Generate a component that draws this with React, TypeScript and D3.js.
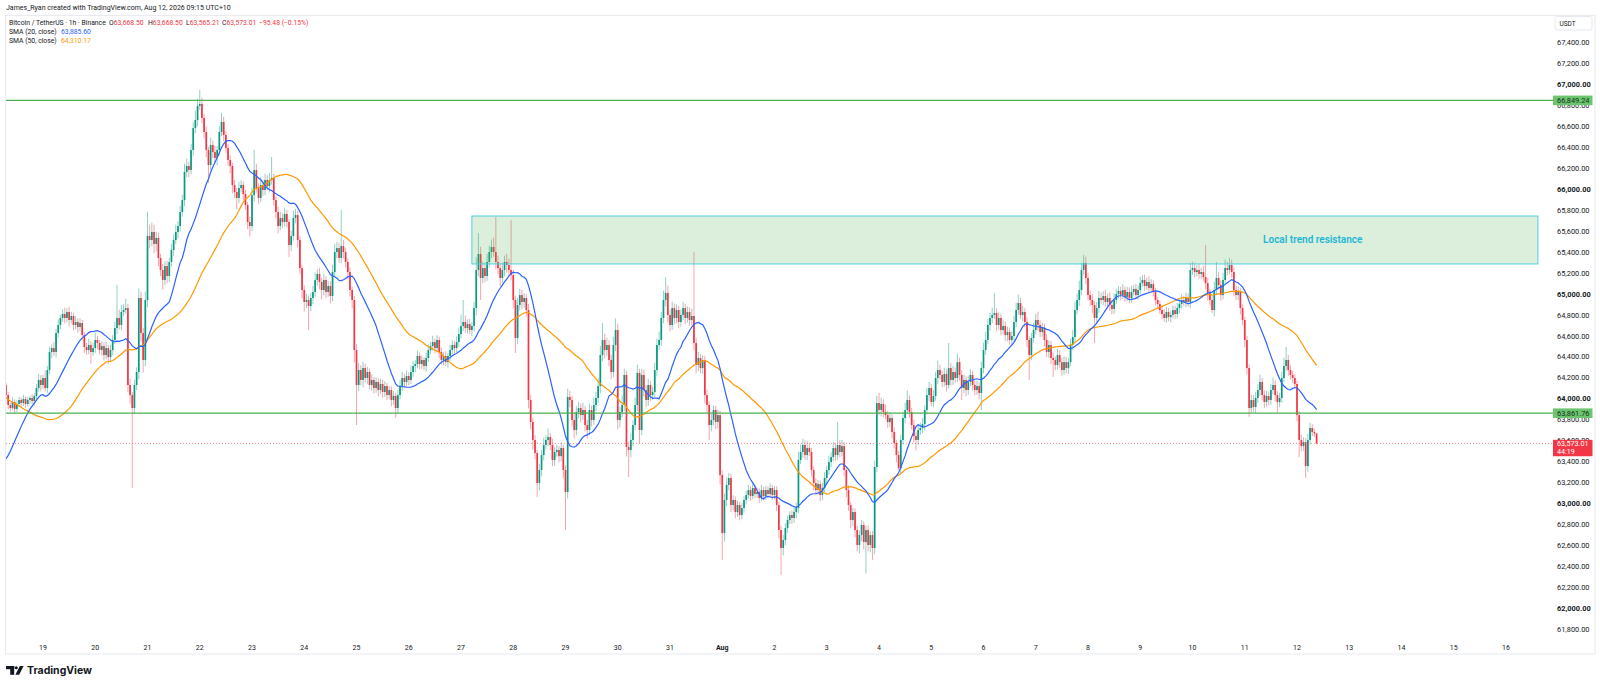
import React from "react";
import * as d3 from "d3";

// ---------- DATA ----------
// hourly closes before the visible window (only used to seed the moving averages)
const warmupCloses = [
  64520, 64580, 64610, 64560, 64490, 64530, 64600, 64650, 64620, 64570, 64540,
  64500, 64560, 64610, 64580, 64530, 64490, 64520, 64560, 64590, 64540,
  64420, 64350, 64280, 64190, 64120, 64050, 63950, 63880, 63760, 63560,
  63250, 63120, 63010, 62950, 62980, 63060, 63020, 63110, 63090, 63170,
  63280, 63390, 63460, 63550, 63620, 63690,
  64150, 64425, 64130,
];

// first visible candle: 2026-07-18 07:00, one candle per hour
const firstCandleTime = "2026-07-18T07:00:00Z";
const closes = [
  // Jul 18 (07:00-23:00)
  64035, 63940, 63911, 63969, 63902, 63950, 63988, 63959, 63997, 63950, 63988, 64007, 63978, 64026, 64102, 64179, 64131,
  // Jul 19
  64198, 64102, 64274, 64446, 64484, 64446, 64628, 64704, 64771, 64809, 64771, 64828, 64752, 64790, 64704, 64733, 64685, 64723, 64608, 64494, 64465, 64513, 64446, 64484,
  // Jul 20
  64561, 64532, 64465, 64503, 64417, 64484, 64398, 64465, 64561, 64675, 64771, 64704, 64828, 64847, 64866, 64131, 64035, 63911, 64131, 64255, 64962, 64628, 64370, 64943,
  // Jul 21
  65554, 65516, 65592, 65478, 65535, 65344, 65229, 65134, 65267, 65172, 65306, 65420, 65516, 65592, 65649, 65783, 65898, 66165, 66223, 66184, 66375, 66585, 66662, 66796,
  // Jul 22
  66815, 66681, 66547, 66375, 66232, 66423, 66356, 66299, 66375, 66547, 66643, 66519, 66394, 66280, 66223, 66041, 65974, 65917, 66012, 66041, 65955, 65850, 65688, 65649,
  // Jul 23
  65944, 66184, 66012, 65917, 66041, 65993, 66089, 66031, 66089, 66108, 65898, 65783, 65649, 65726, 65688, 65764, 65688, 65468, 65554, 65726, 65754, 65516, 65248, 65038,
  // Jul 24
  64924, 64943, 64885, 64962, 65019, 65134, 65191, 65115, 65038, 65134, 65019, 65076, 64981, 65210, 65401, 65439, 65344, 65458, 65401, 65306, 65210, 65038, 64943, 64465,
  // Jul 25
  64131, 64274, 64179, 64293, 64198, 64255, 64131, 64179, 64102, 64160, 64083, 64141, 64064, 64121, 64035, 64083, 63988, 64026, 63911, 64035, 64121, 64198, 64160, 64217,
  // Jul 26
  64179, 64255, 64312, 64331, 64408, 64331, 64370, 64312, 64389, 64465, 64503, 64541, 64484, 64561, 64446, 64370, 64408, 64350, 64408, 64465, 64513, 64484, 64541, 64618,
  // Jul 27
  64694, 64733, 64675, 64713, 64656, 64694, 64866, 65229, 65382, 65153, 65248, 65172, 65306, 65401, 65449, 65401, 65306, 65248, 65153, 65229, 65306, 65277, 65229, 65181,
  // Jul 28
  64943, 64580, 64895, 64990, 64924, 64962, 64847, 63988, 63777, 63606, 63481, 63195, 63319, 63462, 63558, 63606, 63634, 63558, 63415, 63491, 63510, 63452, 63529, 63319,
  // Jul 29
  63109, 64016, 63988, 63797, 63701, 63873, 63911, 63844, 63892, 63749, 63701, 63892, 63797, 63940, 64007, 64121, 64417, 64561, 64465, 64513, 64370, 64255, 64513, 64656,
  // Jul 30
  63797, 63873, 63940, 64227, 63539, 63510, 63606, 63749, 63940, 64246, 63701, 64227, 64083, 63988, 64131, 64035, 64064, 64274, 64513, 64561, 64771, 64943, 65010, 64800,
  // Jul 31
  64704, 64866, 64771, 64847, 64733, 64800, 64866, 64771, 64828, 64752, 64790, 64532, 64322, 64389, 64293, 64370, 64035, 63940, 63749, 63797, 63892, 63777, 63844, 63271,
  // Aug 1
  62717, 63033, 63176, 63243, 62985, 63033, 62918, 62985, 62889, 62956, 63033, 63081, 63128, 63071, 63147, 63090, 63109, 63052, 63128, 63071, 63128, 63090, 63147, 63081,
  // Aug 2
  63128, 62985, 62746, 62574, 62651, 62765, 62842, 62889, 62861, 62918, 62956, 63415, 63491, 63558, 63462, 63529, 63491, 63319, 63195, 63128, 63185, 63081, 63147, 63243,
  // Aug 3
  63319, 63395, 63443, 63529, 63462, 63558, 63491, 63548, 63319, 63128, 62985, 62842, 62918, 62746, 62603, 62698, 62794, 62631, 62746, 62603, 62698, 62574, 63348, 63959,
  // Aug 4
  63892, 63950, 63873, 63844, 63777, 63816, 63682, 63577, 63462, 63338, 63606, 63816, 63892, 63988, 63873, 63749, 63644, 63606, 63701, 63720, 63758, 63892, 64035, 64102,
  // Aug 5
  63969, 64026, 64198, 64274, 64227, 64160, 64236, 64131, 64293, 64179, 64255, 64198, 64350, 64227, 64102, 64179, 64083, 64160, 64227, 64131, 64083, 64121, 64055, 64293,
  // Aug 6
  64465, 64561, 64704, 64771, 64800, 64818, 64704, 64771, 64656, 64694, 64608, 64637, 64561, 64599, 64733, 64847, 64914, 64800, 64828, 64733, 64561, 64417, 64580, 64656,
  // Aug 7
  64752, 64704, 64637, 64675, 64561, 64446, 64513, 64389, 64370, 64322, 64417, 64350, 64274, 64350, 64293, 64350, 64513, 64589, 64847, 64943, 65038, 65229, 65296, 65153,
  // Aug 8
  64990, 64943, 64895, 64771, 64866, 64962, 64943, 64981, 64924, 64962, 64895, 64857, 64943, 65000, 65029, 64990, 65038, 64971, 65019, 64962, 65019, 65048, 64990, 65038,
  // Aug 9
  65105, 65134, 65076, 65115, 65057, 65095, 65019, 64943, 64905, 64847, 64809, 64771, 64828, 64780, 64800, 64847, 64809, 64866, 64905, 64943, 64924, 64962, 64924, 65229,
  // Aug 10
  65248, 65210, 65229, 65191, 65210, 65162, 65105, 65010, 64943, 64847, 65038, 65153, 65086, 64990, 65134, 65248, 65229, 65277, 65210, 65038, 64990, 65019, 64866, 64752,
  // Aug 11
  64561, 64293, 63911, 63988, 63921, 64007, 64083, 64160, 64035, 63969, 64026, 63988, 64083, 64131, 64035, 63969, 64007, 64198, 64312, 64370, 64274, 64227, 64198, 64141,
  // Aug 12 (00:00-09:00)
  63844, 63606, 63548, 63586, 63357, 63606, 63720, 63682, 63668.5, 63573.01,
];

// wick lengths above max(open, close) and below min(open, close), in USDT
const upperWicks = [
  25, 30, 20, 45, 25, 35, 30, 20, 40, 25,
  30, 20, 35, 25, 40, 60, 45, 30, 70, 40,
  50, 35, 60, 40, 55, 30, 45, 60, 35, 50,
  40, 30, 55, 35, 45, 30, 25, 40, 60, 35,
  50, 70, 40, 30, 45, 35, 60, 30, 50, 45,
  60, 315, 80, 70, 55, 90, 40, 60, 30, 50,
  45, 90, 60, 50, 80, 229, 110, 90, 70, 60,
  50, 40, 60, 45, 50, 40, 60, 55, 70, 45,
  60, 50, 80, 70, 40, 60, 55, 90, 70, 133,
  60, 40, 55, 30, 70, 45, 60, 40, 55, 86,
  50, 40, 35, 45, 30, 50, 40, 60, 45, 35,
  40, 30, 50, 70, 191, 60, 45, 80, 50, 60,
  45, 70, 201, 40, 35, 50, 60, 45, 55, 40,
  30, 50, 70, 60, 40, 35, 30, 45, 60, 40,
  50, 60, 70, 45, 55, 40, 60, 35, 50, 45,
  70, 80, 60, 50, 344, 60, 40, 35, 45, 30,
  40, 60, 70, 45, 60, 40, 50, 35, 55, 30,
  45, 35, 50, 40, 45, 30, 40, 35, 50, 30,
  45, 55, 60, 40, 50, 35, 60, 45, 40, 50,
  35, 45, 30, 50, 55, 40, 60, 35, 45, 30,
  40, 35, 45, 30, 50, 45, 40, 55, 60, 110,
  210, 60, 45, 50, 40, 60, 120, 200, 70, 60,
  50, 80, 60, 70, 90, 334, 60, 50, 70, 60,
  80, 60, 478, 50, 40, 70, 60, 50, 45, 40,
  60, 50, 40, 45, 30, 60, 50, 70, 45, 80,
  40, 60, 45, 50, 40, 55, 30, 45, 80, 60,
  40, 70, 55, 60, 45, 70, 40, 50, 60, 45,
  70, 60, 80, 90, 162, 60, 70, 45, 50, 80,
  110, 60, 50, 90, 60, 40, 50, 60, 45, 70,
  80, 40, 60, 50, 45, 60, 40, 50, 70, 60,
  80, 60, 90, 152, 70, 50, 60, 45, 55, 40,
  50, 60, 40, 55, 45, 70, 611, 50, 60, 40,
  45, 40, 50, 35, 60, 45, 40, 50, 40, 45,
  60, 70, 50, 40, 45, 35, 40, 30, 45, 35,
  40, 50, 35, 45, 30, 40, 35, 50, 30, 40,
  35, 45, 30, 40, 35, 30, 40, 50, 45, 40,
  35, 45, 40, 50, 80, 70, 60, 45, 70, 50,
  40, 35, 45, 40, 35, 50, 55, 40, 60, 45,
  60, 50, 219, 45, 60, 40, 35, 45, 30, 40,
  35, 40, 45, 50, 35, 40, 45, 35, 40, 60,
  70, 96, 60, 45, 70, 40, 55, 35, 45, 30,
  40, 50, 60, 70, 90, 45, 40, 50, 35, 60,
  50, 60, 45, 70, 60, 40, 55, 60, 90, 50,
  40, 60, 45, 239, 50, 60, 45, 80, 40, 45,
  50, 35, 60, 55, 40, 45, 50, 35, 60, 70,
  80, 60, 50, 70, 192, 45, 55, 40, 60, 45,
  50, 40, 45, 60, 70, 80, 50, 60, 40, 45,
  35, 50, 70, 60, 80, 45, 50, 40, 55, 45,
  40, 50, 35, 60, 45, 40, 55, 50, 40, 60,
  70, 80, 60, 90, 70, 77, 60, 50, 45, 55,
  40, 60, 70, 50, 45, 60, 40, 55, 45, 60,
  50, 45, 40, 55, 35, 50, 45, 60, 40, 50,
  45, 60, 47, 50, 40, 55, 45, 35, 40, 30,
  35, 40, 45, 50, 40, 35, 45, 40, 50, 45,
  55, 40, 50, 45, 70, 60, 50, 45, 55, 40,
  60, 306, 50, 40, 45, 80, 153, 60, 45, 70,
  80, 60, 67, 50, 45, 40, 55, 40, 35, 30,
  40, 35, 50, 45, 60, 55, 70, 40, 45, 50,
  40, 60, 70, 45, 40, 50, 60, 80, 124, 50,
  45, 40, 35, 30, 40, 50, 45, 40, 60, 48,
  40, 30, 0,
];
const lowerWicks = [
  30, 40, 35, 20, 45, 30, 25, 40, 30, 35,
  25, 40, 30, 45, 30, 35, 60, 40, 30, 50,
  40, 60, 35, 50, 45, 40, 35, 50, 40, 60,
  35, 50, 40, 55, 35, 50, 60, 45, 40, 110,
  35, 45, 60, 40, 55, 50, 40, 65, 45, 50,
  40, 60, 45, 50, 40, 35, 70, 80, 764, 60,
  50, 70, 80, 120, 60, 70, 80, 60, 90, 70,
  80, 60, 90, 50, 70, 60, 45, 55, 40, 60,
  50, 45, 60, 50, 70, 40, 55, 50, 60, 40,
  50, 60, 70, 172, 50, 60, 45, 70, 50, 40,
  60, 45, 55, 70, 80, 60, 110, 50, 40, 60,
  45, 70, 100, 50, 60, 45, 55, 40, 60, 50,
  40, 60, 45, 55, 60, 70, 40, 60, 45, 50,
  115, 60, 45, 50, 70, 60, 80, 90, 60, 229,
  50, 60, 45, 55, 70, 90, 50, 60, 45, 70,
  50, 40, 60, 45, 50, 60, 55, 70, 60, 80,
  120, 382, 60, 50, 70, 45, 60, 40, 55, 50,
  45, 60, 40, 55, 45, 50, 40, 60, 45, 95,
  50, 40, 45, 60, 35, 50, 40, 45, 60, 40,
  50, 45, 40, 55, 35, 40, 45, 50, 40, 60,
  45, 50, 40, 55, 45, 35, 50, 40, 45, 40,
  50, 45, 55, 40, 60, 50, 70, 60, 210, 50,
  60, 45, 50, 60, 45, 70, 60, 80, 50, 60,
  70, 60, 50, 80, 143, 60, 50, 70, 55, 60,
  80, 70, 90, 60, 134, 70, 60, 50, 45, 60,
  50, 60, 55, 45, 60, 50, 80, 363, 60, 70,
  60, 80, 50, 60, 70, 45, 60, 80, 50, 60,
  45, 60, 50, 70, 60, 80, 55, 60, 70, 50,
  60, 90, 70, 50, 60, 90, 258, 70, 60, 50,
  60, 124, 50, 60, 70, 55, 60, 45, 50, 60,
  45, 55, 50, 60, 70, 60, 45, 55, 50, 60,
  45, 50, 60, 45, 55, 50, 70, 80, 60, 50,
  55, 80, 70, 143, 60, 50, 70, 60, 90, 257,
  80, 60, 50, 70, 55, 60, 45, 50, 40, 45,
  40, 35, 45, 30, 40, 35, 45, 30, 40, 35,
  40, 35, 45, 40, 60, 80, 258, 70, 50, 45,
  40, 55, 45, 60, 50, 40, 55, 45, 50, 40,
  60, 70, 50, 45, 60, 50, 40, 55, 45, 50,
  40, 55, 45, 50, 40, 60, 70, 55, 80, 60,
  70, 60, 80, 55, 70, 301, 60, 70, 114, 60,
  50, 45, 60, 50, 40, 55, 45, 60, 50, 70,
  19, 60, 45, 50, 40, 55, 45, 60, 100, 50,
  45, 50, 60, 45, 55, 40, 50, 45, 60, 40,
  50, 45, 60, 40, 55, 50, 45, 40, 55, 114,
  50, 60, 45, 40, 55, 50, 45, 60, 163, 50,
  45, 40, 55, 50, 40, 60, 45, 50, 40, 55,
  60, 45, 40, 55, 50, 45, 40, 60, 50, 70,
  238, 50, 45, 40, 55, 50, 45, 60, 50, 55,
  60, 162, 50, 45, 55, 60, 45, 50, 55, 40,
  50, 45, 40, 55, 50, 45, 60, 50, 55, 80,
  239, 50, 45, 40, 50, 45, 40, 55, 50, 45,
  40, 45, 50, 35, 45, 40, 50, 45, 35, 40,
  45, 40, 35, 45, 40, 50, 45, 40, 50, 45,
  40, 50, 38, 45, 40, 50, 35, 45, 40, 50,
  45, 40, 50, 45, 60, 45, 50, 40, 45, 50,
  40, 60, 70, 50, 29, 60, 50, 45, 55, 40,
  45, 50, 40, 55, 60, 45, 50, 60, 50, 70,
  60, 85, 50, 45, 60, 45, 55, 50, 60, 45,
  50, 45, 40, 60, 105, 50, 45, 40, 50, 55,
  45, 50, 40, 60, 163, 50, 45, 114, 55, 45,
  40, 35, 7.8,
];

const priceTicks = [
  61800, 62000, 62200, 62400, 62600, 62800, 63000, 63200, 63400, 63600, 63800,
  64000, 64200, 64400, 64600, 64800, 65000, 65200, 65400, 65600, 65800, 66000,
  66200, 66400, 66600, 66800, 67000, 67200, 67400,
];
const dayTickDates = [
  "2026-07-19", "2026-07-20", "2026-07-21", "2026-07-22", "2026-07-23", "2026-07-24",
  "2026-07-25", "2026-07-26", "2026-07-27", "2026-07-28", "2026-07-29", "2026-07-30",
  "2026-07-31", "2026-08-01", "2026-08-02", "2026-08-03", "2026-08-04", "2026-08-05",
  "2026-08-06", "2026-08-07", "2026-08-08", "2026-08-09", "2026-08-10", "2026-08-11",
  "2026-08-12", "2026-08-13", "2026-08-14", "2026-08-15", "2026-08-16",
];
const dayTickLabels = [
  "19", "20", "21", "22", "23", "24", "25", "26", "27", "28", "29", "30", "31",
  "Aug", "2", "3", "4", "5", "6", "7", "8", "9", "10", "11", "12", "13", "14", "15", "16",
];

const horizontalLevels = [66849.24, 63861.76];
const zoneTimes = ["2026-07-27T05:00:00Z", "2026-08-16T14:40:00Z"];
const zonePrices = [65745, 65287];
const zoneLabel = "Local trend resistance";
const zoneLabelTime = "2026-08-11T08:25:00Z";

const headerText = "James_Ryan created with TradingView.com, Aug 12, 2026 09:15 UTC+10";
const symbolText = "Bitcoin / TetherUS · 1h · Binance";
const changeText = "\u221295.48 (\u22120.15%)";
const sma20Text = "63,885.60";
const sma50Text = "64,310.17";
const countdownText = "44:19";

// ---------- STYLE ----------
const FONT = "Roboto, 'Noto Sans', 'DejaVu Sans', sans-serif";
const UP = "#089981";
const DOWN = "#f23645";
const TEXT = "#131722";
const BLUE = "#2962ff";
const ORANGE = "#ff9800";
const GREEN = "#4caf50";

const PLOT_L = 6;
const PLOT_R = 1553;
const PLOT_T = 16;
const PLOT_B = 638;

export default function App() {
  const x = d3
    .scaleUtc()
    .domain([new Date("2026-07-19T00:00:00Z"), new Date("2026-08-16T00:00:00Z")])
    .range([43, 1506]);
  const y = d3.scaleLinear().domain([61800, 67400]).range([629.1, 42.7]);
  const fmt = d3.format(",.2f");

  const HOUR = 3600 * 1000;
  const t0 = new Date(firstCandleTime).getTime();
  const all = warmupCloses.concat(closes);
  const W0 = warmupCloses.length;

  const candles = closes.map((c, i) => {
    const o = i === 0 ? warmupCloses[W0 - 1] : closes[i - 1];
    return {
      t: new Date(t0 + i * HOUR),
      o,
      c,
      h: Math.max(o, c) + upperWicks[i],
      l: Math.min(o, c) - lowerWicks[i],
    };
  });

  const sma = (n: number) =>
    closes.map((_, i) => {
      const j = W0 + i;
      return { t: new Date(t0 + i * HOUR), v: d3.mean(all.slice(j - n + 1, j + 1)) as number };
    });
  const line = d3
    .line<{ t: Date; v: number }>()
    .x((d) => x(d.t))
    .y((d) => y(d.v));
  const sma20Path = line(sma(20)) || "";
  const sma50Path = line(sma(50)) || "";

  const last = candles[candles.length - 1];
  const lastY = y(last.c);

  const zx0 = x(new Date(zoneTimes[0]));
  const zx1 = x(new Date(zoneTimes[1]));
  const zy0 = y(zonePrices[0]);
  const zy1 = y(zonePrices[1]);

  const legendParts = [
    { k: "O", v: fmt(last.o), x: 109 },
    { k: "H", v: fmt(last.h), x: 148 },
    { k: "L", v: fmt(last.l), x: 186 },
    { k: "C", v: fmt(last.c), x: 222 },
  ];

  return (
    <svg
      width={1600}
      height={686}
      style={{ position: "absolute", left: 0, top: 0, display: "block" }}
      fontFamily={FONT}
    >
      <rect x={0} y={0} width={1600} height={686} fill="#ffffff" />
      <defs>
        <clipPath id="plotClip">
          <rect x={PLOT_L} y={PLOT_T} width={PLOT_R - PLOT_L} height={PLOT_B - PLOT_T} />
        </clipPath>
      </defs>

      <text x={6} y={10} fontSize={7} fill={TEXT}>
        {headerText}
      </text>

      <g clipPath="url(#plotClip)">
        {/* candles */}
        {candles.map((d, i) => {
          const cx = x(d.t);
          const col = d.c >= d.o ? UP : DOWN;
          const yo = y(d.o);
          const yc = y(d.c);
          const top = Math.min(yo, yc);
          const hgt = Math.max(1, Math.abs(yo - yc));
          return (
            <g key={i}>
              <line x1={cx} x2={cx} y1={y(d.h)} y2={y(d.l)} stroke={col} strokeOpacity={0.45} strokeWidth={1} />
              <rect x={cx - 0.85} y={top} width={1.7} height={hgt} fill={col} />
            </g>
          );
        })}

        {/* moving averages */}
        <path d={sma50Path} fill="none" stroke={ORANGE} strokeWidth={1.2} />
        <path d={sma20Path} fill="none" stroke={BLUE} strokeWidth={1.2} />

        {/* resistance zone */}
        <rect
          x={zx0}
          y={zy0}
          width={zx1 - zx0}
          height={zy1 - zy0}
          fill="rgba(76,175,80,0.2)"
          stroke="#4fcfe0"
          strokeWidth={1}
        />
        <text
          x={x(new Date(zoneLabelTime))}
          y={(zy0 + zy1) / 2 + 3.5}
          fontSize={10}
          fontWeight={600}
          fill="#1fb6d4"
        >
          {zoneLabel}
        </text>

        {/* horizontal levels */}
        {horizontalLevels.map((p) => (
          <line key={p} x1={PLOT_L} x2={PLOT_R} y1={y(p)} y2={y(p)} stroke={GREEN} strokeWidth={1.2} />
        ))}

        {/* last price line */}
        <line
          x1={PLOT_L}
          x2={PLOT_R}
          y1={lastY}
          y2={lastY}
          stroke={DOWN}
          strokeOpacity={0.7}
          strokeWidth={0.8}
          strokeDasharray="1 2"
        />
      </g>

      {/* legend */}
      <text x={9} y={25} fontSize={6.8} fill={TEXT}>
        {symbolText}
      </text>
      {legendParts.map((p) => (
        <text key={p.k} x={p.x} y={25} fontSize={6.8}>
          <tspan fill={TEXT}>{p.k}</tspan>
          <tspan fill={DOWN}>{p.v}</tspan>
        </text>
      ))}
      <text x={259} y={25} fontSize={6.8} fill={DOWN}>
        {changeText}
      </text>
      <text x={9} y={34} fontSize={6.8} fill={TEXT}>
        SMA (20, close)
      </text>
      <text x={61} y={34} fontSize={6.8} fill={BLUE}>
        {sma20Text}
      </text>
      <text x={9} y={42.6} fontSize={6.8} fill={TEXT}>
        SMA (50, close)
      </text>
      <text x={61} y={42.6} fontSize={6.8} fill={ORANGE}>
        {sma50Text}
      </text>

      {/* price axis */}
      <rect x={1555} y={16.5} width={37} height={13.5} rx={2} fill="#fff" stroke="#e0e3eb" strokeWidth={0.8} />
      <text x={1559.5} y={25.6} fontSize={6.5} fill={TEXT}>
        USDT
      </text>
      {priceTicks.map((p) => (
        <text
          key={p}
          x={1557}
          y={y(p) + 2.6}
          fontSize={7.4}
          fontWeight={p % 1000 === 0 ? 700 : 400}
          fill={TEXT}
        >
          {fmt(p)}
        </text>
      ))}
      {horizontalLevels.map((p) => (
        <g key={"lbl" + p}>
          <rect x={1553} y={y(p) - 4.8} width={39.5} height={9.6} fill="#6cc46f" />
          <text x={1557} y={y(p) + 2.6} fontSize={7.4} fill="#12331a">
            {fmt(p)}
          </text>
        </g>
      ))}
      <rect x={1553} y={lastY - 3.6} width={39.5} height={16.4} fill={DOWN} />
      <text x={1557} y={lastY + 2.8} fontSize={7.2} fill="#ffffff">
        {fmt(last.c)}
      </text>
      <text x={1557} y={lastY + 10.6} fontSize={7.2} fill="#ffffff">
        {countdownText}
      </text>

      {/* time axis */}
      {dayTickDates.map((ds, i) => (
        <text
          key={ds}
          x={x(new Date(ds + "T00:00:00Z"))}
          y={649.6}
          fontSize={7}
          textAnchor="middle"
          fontWeight={dayTickLabels[i] === "Aug" ? 700 : 400}
          fill={TEXT}
        >
          {dayTickLabels[i]}
        </text>
      ))}

      {/* frame */}
      <rect x={5.7} y={15.3} width={1589.3} height={638.7} fill="none" stroke="#e0e3eb" strokeWidth={0.8} />

      {/* footer logo */}
      <g fill={TEXT}>
        <rect x={6} y={666} width={8.2} height={3.2} />
        <rect x={10.2} y={666} width={4} height={8.8} />
        <circle cx={16.3} cy={667.7} r={1.5} />
        <polygon points="15.4,674.8 19.2,674.8 23.6,666 19.8,666" />
      </g>
      <text x={27} y={673.8} fontSize={10.5} fontWeight={700} fill={TEXT} fontFamily="Inter, Roboto, sans-serif">
        TradingView
      </text>
    </svg>
  );
}
